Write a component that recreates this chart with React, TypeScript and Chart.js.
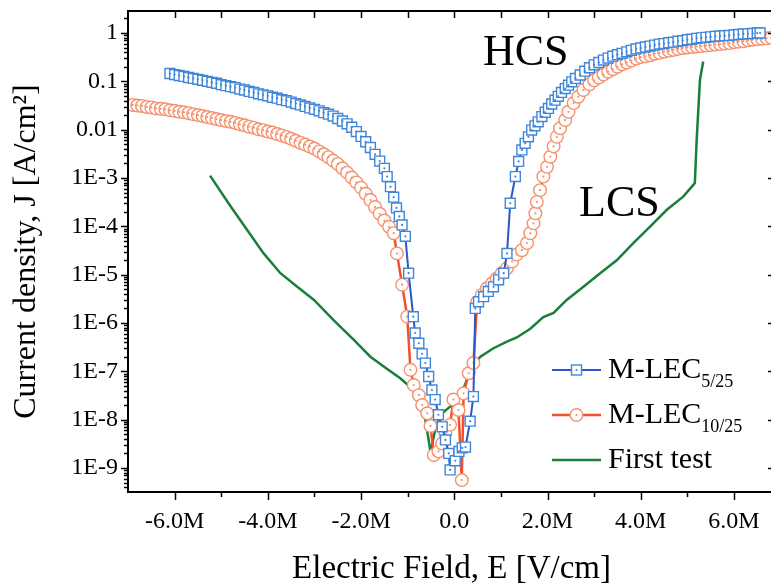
import React, { useEffect, useRef } from 'react';
import { Chart, registerables } from 'chart.js';

Chart.register(...registerables);

const FONT = '"Liberation Serif", "DejaVu Serif", "Times New Roman", serif';

const xTickValues = [-6, -4, -2, 0, 2, 4, 6];
const xTickLabels = ['-6.0M', '-4.0M', '-2.0M', '0.0', '2.0M', '4.0M', '6.0M'];
const yTickValues = [1, 0.1, 0.01, 1e-3, 1e-4, 1e-5, 1e-6, 1e-7, 1e-8, 1e-9];
const yTickLabels = ['1', '0.1', '0.01', '1E-3', '1E-4', '1E-5', '1E-6', '1E-7', '1E-8', '1E-9'];

const seriesNames = ['M-LEC5/25', 'M-LEC10/25', 'First test'];
const legendMain = ['M-LEC', 'M-LEC', 'First test'];
const legendSub = ['5/25', '10/25', ''];

const xTitle = 'Electric Field, E [V/cm]';
const yTitle = 'Current density, J [A/cm\u00B2]';

// Electric field in MV/cm (labelled "M"), current density in A/cm^2
const blueField = [
  -6.1, -6.0, -5.9, -5.8, -5.7, -5.6, -5.5, -5.4, -5.3, -5.2, -5.1, -5.0, -4.9, -4.8, -4.7, -4.6,
  -4.5, -4.4, -4.3, -4.2, -4.1, -4.0, -3.9, -3.8, -3.7, -3.6, -3.5, -3.4, -3.3, -3.2, -3.1, -3.0,
  -2.9, -2.8, -2.7, -2.6, -2.5, -2.4, -2.3, -2.2, -2.1, -2.0, -1.9, -1.8, -1.7, -1.6, -1.5, -1.44,
  -1.37, -1.30, -1.24, -1.18, -1.12, -1.05, -0.98, -0.88, -0.84, -0.76, -0.69, -0.62, -0.55, -0.48,
  -0.41, -0.34, -0.26, -0.19, -0.12, -0.09, 0.02, 0.10, 0.17, 0.24, 0.34, 0.41, 0.45, 0.52, 0.63,
  0.73, 0.84, 0.95, 1.06, 1.13, 1.20, 1.31, 1.38, 1.45, 1.52, 1.59, 1.66, 1.73, 1.80, 1.88, 1.95,
  2.02, 2.09, 2.16, 2.23, 2.30, 2.38, 2.45, 2.52, 2.6, 2.7, 2.8, 2.9, 3.0, 3.1, 3.2, 3.3, 3.4, 3.5,
  3.6, 3.7, 3.8, 3.9, 4.0, 4.1, 4.2, 4.3, 4.4, 4.5, 4.6, 4.7, 4.8, 4.9, 5.0, 5.1, 5.2, 5.3, 5.4,
  5.5, 5.6, 5.7, 5.8, 5.9, 6.0, 6.1, 6.2, 6.3, 6.4, 6.5, 6.56,
];
const blueJ = [
  0.145, 0.138, 0.132, 0.126, 0.12, 0.115, 0.11, 0.105, 0.1, 0.0955, 0.0912, 0.0851, 0.0813, 0.0776, 0.0741, 0.0692,
  0.0661, 0.0617, 0.0589, 0.055, 0.0525, 0.0501, 0.0468, 0.0447, 0.0417, 0.0398, 0.0372, 0.0347, 0.0324, 0.0302, 0.0282, 0.0263,
  0.0245, 0.0224, 0.0209, 0.0191, 0.017, 0.0151, 0.0132, 0.0112, 0.00912, 0.00724, 0.00562, 0.00427, 0.00309, 0.00224, 0.00158, 0.00107,
  6.6e-4, 4.0e-4, 2.4e-4, 1.6e-4, 1.07e-4, 6.2e-5, 1.07e-5, 1.35e-6, 6.2e-7, 3.8e-7, 2.3e-7, 1.48e-7, 7.8e-8, 4.1e-8,
  2.6e-8, 1.26e-8, 7.1e-9, 3.8e-9, 2.0e-9, 9.1e-10, 1.41e-9, 2.2e-9, 2.6e-9, 2.7e-9, 9.3e-9, 3.0e-8, 2.0e-6, 2.75e-6, 3.5e-6,
  4.5e-6, 5.6e-6, 7.8e-6, 1.07e-5, 2.75e-5, 3.0e-4, 1.07e-3, 2.2e-3, 3.8e-3, 5.2e-3, 7.1e-3, 9.8e-3, 0.012, 0.0145, 0.0186, 0.0229,
  0.0275, 0.0339, 0.0407, 0.049, 0.0589, 0.0708, 0.0832, 0.0977, 0.115, 0.135, 0.162, 0.191, 0.219, 0.245, 0.275, 0.302, 0.331, 0.355,
  0.38, 0.407, 0.437, 0.468, 0.49, 0.513, 0.537, 0.562, 0.589, 0.603, 0.631, 0.646, 0.676, 0.692, 0.724, 0.741, 0.776, 0.794, 0.813,
  0.832, 0.851, 0.871, 0.88, 0.891, 0.912, 0.933, 0.955, 0.96, 0.977, 1.0, 1.0,
];

const orangeField = [
  -6.9, -6.8, -6.7, -6.6, -6.5, -6.4, -6.3, -6.2, -6.1, -6.0, -5.9, -5.8, -5.7, -5.6, -5.5, -5.4,
  -5.3, -5.2, -5.1, -5.0, -4.9, -4.8, -4.7, -4.6, -4.5, -4.4, -4.3, -4.2, -4.1, -4.0, -3.9, -3.8,
  -3.7, -3.6, -3.5, -3.4, -3.3, -3.2, -3.1, -3.0, -2.9, -2.8, -2.7, -2.6, -2.5, -2.4, -2.3, -2.2,
  -2.1, -2.0, -1.9, -1.8, -1.7, -1.6, -1.5, -1.4, -1.30, -1.23, -1.12, -1.01, -0.94, -0.87, -0.76,
  -0.69, -0.58, -0.51, -0.44, -0.34, -0.26, -0.19, -0.09, -0.02, 0.09, 0.16, 0.20, 0.31, 0.41, 0.49,
  0.59, 0.70, 0.81, 0.91, 1.02, 1.13, 1.24, 1.34, 1.45, 1.56, 1.63, 1.70, 1.74, 1.77, 1.84, 1.91,
  1.99, 2.06, 2.13, 2.20, 2.27, 2.38, 2.45, 2.56, 2.66, 2.77, 2.9, 3.0, 3.1, 3.2, 3.3, 3.4, 3.5, 3.6,
  3.7, 3.8, 3.9, 4.0, 4.1, 4.2, 4.3, 4.4, 4.5, 4.6, 4.7, 4.8, 4.9, 5.0, 5.1, 5.2, 5.3, 5.4, 5.5, 5.6,
  5.7, 5.8, 5.9, 6.0, 6.1, 6.2, 6.3, 6.4, 6.5, 6.6, 6.7, 6.8,
];
const orangeJ = [
  0.0324, 0.0316, 0.0309, 0.0295, 0.0288, 0.0275, 0.0269, 0.0263, 0.0251, 0.0245, 0.0234, 0.0229, 0.0219, 0.0209, 0.02, 0.0191,
  0.0182, 0.0174, 0.0166, 0.0158, 0.0151, 0.0145, 0.0138, 0.0129, 0.0123, 0.0115, 0.011, 0.0102, 0.00977, 0.00912, 0.00871, 0.00813,
  0.00759, 0.00708, 0.00646, 0.00589, 0.00537, 0.0049, 0.00447, 0.00407, 0.00355, 0.00309, 0.00269, 0.00229, 0.00195, 0.00158, 0.00129, 0.00102,
  8.1e-4, 6.3e-4, 4.7e-4, 3.5e-4, 2.5e-4, 1.82e-4, 1.32e-4, 9.8e-5, 7.2e-5, 2.75e-5, 6.2e-6, 1.35e-6, 1.07e-7, 5.2e-8, 3.2e-8,
  2.0e-8, 1.35e-8, 7.4e-9, 1.86e-9, 2.2e-9, 3.2e-9, 5.2e-9, 7.8e-9, 2.6e-8, 1.58e-8, 5.6e-10, 3.5e-8, 9.1e-8, 1.48e-7, 2.7e-6,
  3.8e-6, 5.2e-6, 6.6e-6, 8.3e-6, 1.07e-5, 1.35e-5, 1.86e-5, 2.6e-5, 3.2e-5, 4.5e-5, 7.2e-5, 1.15e-4, 1.86e-4, 3.2e-4, 5.6e-4, 1.07e-3,
  1.7e-3, 2.75e-3, 4.5e-3, 7.1e-3, 0.0107, 0.0158, 0.0234, 0.0355, 0.0479, 0.0661, 0.0871, 0.105, 0.12, 0.138, 0.158, 0.178, 0.2, 0.224,
  0.245, 0.269, 0.295, 0.316, 0.331, 0.347, 0.372, 0.389, 0.407, 0.427, 0.447, 0.468, 0.49, 0.501, 0.513, 0.525, 0.537, 0.55, 0.562, 0.575,
  0.589, 0.603, 0.617, 0.646, 0.661, 0.676, 0.708, 0.724, 0.741, 0.759, 0.776, 0.794,
];

const greenField = [
  -5.24, -4.80, -4.44, -4.09, -3.73, -3.37, -3.01, -2.59, -2.16, -1.80, -1.44, -1.16, -0.87, -0.73,
  -0.62, -0.55, -0.51, -0.41, -0.30, -0.09, 0.13, 0.24, 0.38, 0.56, 0.84, 1.13, 1.34, 1.63, 1.91,
  2.13, 2.41, 2.77, 3.13, 3.49, 3.84, 4.20, 4.56, 4.91, 5.16, 5.20, 5.27, 5.34,
];
const greenJ = [
  1.12e-3, 2.6e-4, 8.3e-5, 2.75e-5, 1.07e-5, 5.6e-6, 3.0e-6, 1.15e-6, 4.5e-7, 2.0e-7, 1.12e-7, 7.2e-8, 4.1e-8, 2.2e-8,
  9.8e-9, 3.8e-9, 2.1e-9, 6.2e-9, 1.26e-8, 1.86e-8, 3.0e-8, 5.6e-8, 1.26e-7, 2.0e-7, 3.0e-7, 4.1e-7, 5.0e-7, 7.6e-7, 1.32e-6,
  1.62e-6, 3.0e-6, 5.6e-6, 1.07e-5, 2.0e-5, 4.5e-5, 9.8e-5, 2.2e-4, 4.1e-4, 7.8e-4, 6.2e-3, 0.107, 0.257,
];

const BLUE_LINE = '#2a57c9';
const BLUE_MARK = '#3f86db';
const ORANGE_LINE = '#f0502b';
const ORANGE_MARK = '#f6916d';
const GREEN_LINE = '#1a7f3a';

const dotColors: (string | null)[] = [BLUE_MARK, ORANGE_MARK, null];

function toPoints(xs: number[], ys: number[]) {
  return xs.map((x, i) => ({ x, y: ys[i] }));
}

const decorPlugin = {
  id: 'decor',
  afterDatasetDraw(chart: any, args: any) {
    const color = dotColors[args.index];
    if (!color) return;
    const ctx = chart.ctx;
    const a = chart.chartArea;
    ctx.save();
    ctx.beginPath();
    ctx.rect(a.left, a.top, a.right - a.left, a.bottom - a.top);
    ctx.clip();
    ctx.fillStyle = color;
    for (const el of args.meta.data) {
      ctx.beginPath();
      ctx.arc(el.x, el.y, 1.1, 0, Math.PI * 2);
      ctx.fill();
    }
    ctx.restore();
  },
  afterDraw(chart: any) {
    const ctx = chart.ctx;
    const a = chart.chartArea;
    const xs = chart.scales.x;
    const ys = chart.scales.y;
    ctx.save();
    ctx.strokeStyle = '#000';
    // ticks
    ctx.lineWidth = 1.5;
    ctx.beginPath();
    for (let v = -7; v <= 7; v++) {
      const px = Math.round(xs.getPixelForValue(v)) + 0.5;
      if (px < a.left + 1 || px > a.right - 1) continue;
      const len = v % 2 === 0 ? 8 : 5;
      ctx.moveTo(px, a.bottom);
      ctx.lineTo(px, a.bottom + len);
      ctx.moveTo(px, a.top);
      ctx.lineTo(px, a.top + 7);
    }
    for (let e = -10; e <= 0; e++) {
      for (let k = 1; k <= 9; k++) {
        const v = k * Math.pow(10, e);
        if (v < ys.min || v > ys.max) continue;
        const py = Math.round(ys.getPixelForValue(v)) + 0.5;
        const len = k === 1 ? 7 : 4;
        ctx.moveTo(a.left - len, py);
        ctx.lineTo(a.left, py);
        ctx.moveTo(a.right, py);
        ctx.lineTo(a.right - len, py);
      }
    }
    ctx.stroke();
    // frame
    ctx.lineWidth = 2;
    ctx.strokeRect(a.left, a.top, a.right - a.left, a.bottom - a.top);

    // annotations
    ctx.fillStyle = '#000';
    ctx.textBaseline = 'alphabetic';
    ctx.textAlign = 'left';
    ctx.font = `44px ${FONT}`;
    ctx.fillText('HCS', a.left + 355, a.top + 54);
    ctx.fillText('LCS', a.left + 451, a.top + 205);

    // legend
    const rows = [a.top + 359, a.top + 404, a.top + 449];
    const lx0 = a.left + 424;
    const lx1 = a.left + 473;
    const mx = (lx0 + lx1) / 2;
    const ds = chart.data.datasets;
    rows.forEach((ry, i) => {
      const d = ds[i];
      ctx.strokeStyle = d.borderColor;
      ctx.lineWidth = d.borderWidth;
      ctx.beginPath();
      ctx.moveTo(lx0, ry);
      ctx.lineTo(lx1, ry);
      ctx.stroke();
      if (i === 0) {
        ctx.fillStyle = '#fff';
        ctx.fillRect(mx - 5, ry - 5, 10, 10);
        ctx.strokeStyle = BLUE_MARK;
        ctx.lineWidth = 1.4;
        ctx.strokeRect(mx - 5, ry - 5, 10, 10);
        ctx.fillStyle = BLUE_MARK;
        ctx.beginPath();
        ctx.arc(mx, ry, 1.1, 0, Math.PI * 2);
        ctx.fill();
      } else if (i === 1) {
        ctx.fillStyle = '#fff';
        ctx.beginPath();
        ctx.arc(mx, ry, 6.3, 0, Math.PI * 2);
        ctx.fill();
        ctx.strokeStyle = ORANGE_MARK;
        ctx.lineWidth = 1.4;
        ctx.stroke();
        ctx.fillStyle = ORANGE_MARK;
        ctx.beginPath();
        ctx.arc(mx, ry, 1.1, 0, Math.PI * 2);
        ctx.fill();
      }
      ctx.fillStyle = '#000';
      ctx.font = `30px ${FONT}`;
      const tx = lx1 + 7;
      const base = ry + 8;
      ctx.fillText(legendMain[i], tx, base);
      if (legendSub[i]) {
        const w = ctx.measureText(legendMain[i]).width;
        ctx.font = `18px ${FONT}`;
        ctx.fillText(legendSub[i], tx + w, base + 9);
      }
    });
    ctx.restore();
  },
};

export default function App() {
  const ref = useRef<HTMLCanvasElement | null>(null);
  useEffect(() => {
    if (!ref.current) return;
    const chart = new Chart(ref.current, {
      type: 'scatter',
      data: {
        datasets: [
          {
            label: seriesNames[0],
            data: toPoints(blueField, blueJ),
            showLine: true,
            borderColor: BLUE_LINE,
            borderWidth: 2,
            pointStyle: 'rect',
            pointRadius: 7,
            pointBorderColor: BLUE_MARK,
            pointBackgroundColor: '#ffffff',
            pointBorderWidth: 1.4,
          },
          {
            label: seriesNames[1],
            data: toPoints(orangeField, orangeJ),
            showLine: true,
            borderColor: ORANGE_LINE,
            borderWidth: 2.5,
            pointStyle: 'circle',
            pointRadius: 6.3,
            pointBorderColor: ORANGE_MARK,
            pointBackgroundColor: '#ffffff',
            pointBorderWidth: 1.4,
          },
          {
            label: seriesNames[2],
            data: toPoints(greenField, greenJ),
            showLine: true,
            borderColor: GREEN_LINE,
            borderWidth: 2.5,
            pointRadius: 0,
            pointHoverRadius: 0,
          },
        ],
      } as any,
      options: {
        responsive: false,
        animation: false,
        events: [],
        layout: { autoPadding: false, padding: { top: 11, right: 2, left: 0, bottom: 0 } },
        plugins: { legend: { display: false }, tooltip: { enabled: false } },
        scales: {
          x: {
            type: 'linear',
            min: -7,
            max: 6.88,
            afterBuildTicks: (s: any) => {
              s.ticks = xTickValues.map((v) => ({ value: v }));
            },
            afterFit: (s: any) => {
              s.height = 94;
              s.paddingLeft = 0;
              s.paddingRight = 0;
            },
            grid: { display: false, drawTicks: false },
            border: { display: false },
            ticks: {
              autoSkip: false,
              maxRotation: 0,
              padding: 15,
              color: '#000',
              font: { family: FONT, size: 24 },
              callback: (_v: any, i: number) => xTickLabels[i],
            },
            title: {
              display: true,
              text: xTitle,
              color: '#000',
              font: { family: FONT, size: 33, lineHeight: 1 },
              padding: { top: 0, bottom: 0 },
            },
          },
          y: {
            type: 'logarithmic',
            min: 3.18e-10,
            max: 2.85,
            afterBuildTicks: (s: any) => {
              s.ticks = yTickValues.map((v) => ({ value: v, major: true }));
            },
            afterFit: (s: any) => {
              s.width = 128;
              s.paddingTop = 0;
              s.paddingBottom = 0;
            },
            grid: { display: false, drawTicks: false },
            border: { display: false },
            ticks: {
              autoSkip: false,
              padding: 10,
              color: '#000',
              font: { family: FONT, size: 24 },
              callback: (_v: any, i: number) => yTickLabels[i],
            },
            title: {
              display: true,
              text: yTitle,
              color: '#000',
              font: { family: FONT, size: 32, lineHeight: 1 },
              padding: { top: 11, bottom: 0 },
            },
          },
        },
      } as any,
      plugins: [decorPlugin],
    });
    return () => chart.destroy();
  }, []);
  return (
    <div
      style={{
        position: 'fixed',
        left: 0,
        top: 0,
        width: 771,
        height: 586,
        overflow: 'hidden',
        background: '#ffffff',
      }}
    >
      <canvas ref={ref} width={777} height={586} style={{ display: 'block', width: 777, height: 586 }} />
    </div>
  );
}
